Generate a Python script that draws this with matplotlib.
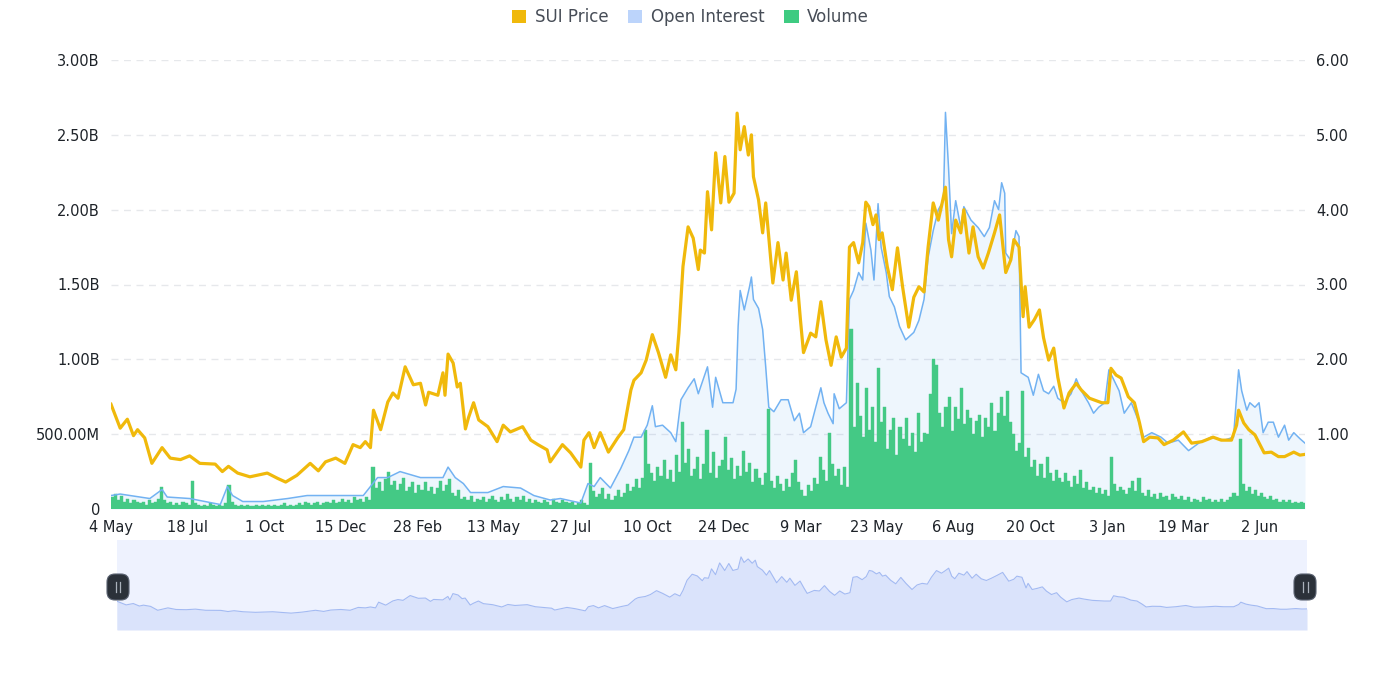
import numpy as np
import pandas as pd
import matplotlib.pyplot as plt
from matplotlib.patches import Patch, FancyBboxPatch
from matplotlib.lines import Line2D
from matplotlib.ticker import FuncFormatter

start = pd.Timestamp("2023-05-04")

# SUI price (right axis), days after start
price_day = [0, 9, 16, 22, 26, 33, 40, 50, 58, 68, 77, 87, 102, 109, 115, 124, 136, 153, 163, 171,
             182, 195, 203, 210, 220, 229, 237, 244, 249, 254, 257, 264, 271, 276, 281, 288, 296, 303, 308, 311,
             320, 325, 327, 330, 335, 339, 342, 347, 350, 355, 360, 369, 378, 384, 391, 403, 411, 418, 427, 430,
             442, 450, 460, 463, 468, 473, 479, 487, 496, 502, 509, 512, 519, 524, 530, 536, 543, 548, 553, 556,
             560, 565, 570, 575, 577, 581, 584, 588, 592, 597, 601, 605, 610, 613, 616, 620, 624, 627, 629, 634,
             638, 641, 648, 653, 658, 661, 666, 671, 675, 678, 685, 690, 695, 700, 705, 710, 715, 720, 723, 727,
             732, 736, 739, 742, 746, 749, 752, 755, 760, 765, 770, 775, 781, 786, 791, 796, 800, 805, 810, 813,
             817, 820, 823, 827, 832, 835, 840, 844, 849, 854, 859, 865, 870, 874, 876, 881, 884, 889, 893, 895,
             899, 904, 909, 913, 918, 923, 927, 933, 938, 945, 950, 958, 970, 976, 979, 984, 989, 996, 1002, 1007,
             1011, 1017, 1025, 1031, 1040, 1050, 1058, 1068, 1079, 1087, 1097, 1102, 1104, 1109, 1114, 1120, 1126, 1129, 1136, 1143,
             1149, 1158, 1164, 1169]
price = [1.40, 1.08, 1.20, 0.98, 1.06, 0.95, 0.61, 0.82, 0.68, 0.66, 0.71, 0.61, 0.60, 0.50, 0.57, 0.48, 0.43, 0.48, 0.41, 0.36,
         0.45, 0.61, 0.51, 0.63, 0.68, 0.61, 0.86, 0.82, 0.90, 0.82, 1.32, 1.06, 1.43, 1.55, 1.48, 1.90, 1.66, 1.68, 1.39, 1.56,
         1.52, 1.82, 1.52, 2.07, 1.95, 1.63, 1.68, 1.07, 1.22, 1.42, 1.19, 1.10, 0.90, 1.12, 1.03, 1.10, 0.92, 0.86, 0.79, 0.63,
         0.86, 0.75, 0.56, 0.92, 1.02, 0.82, 1.02, 0.76, 0.95, 1.06, 1.59, 1.72, 1.82, 1.99, 2.33, 2.09, 1.76, 2.06, 1.86, 2.35,
         3.24, 3.77, 3.62, 3.20, 3.46, 3.42, 4.24, 3.73, 4.76, 4.09, 4.71, 4.10, 4.22, 5.29, 4.80, 5.11, 4.73, 5.00, 4.44, 4.13,
         3.69, 4.09, 3.02, 3.56, 3.06, 3.42, 2.79, 3.17, 2.53, 2.09, 2.35, 2.30, 2.77, 2.26, 1.92, 2.30, 2.03, 2.15, 3.50, 3.56,
         3.29, 3.56, 4.10, 4.04, 3.80, 3.93, 3.60, 3.69, 3.24, 2.93, 3.49, 2.97, 2.43, 2.83, 2.97, 2.90, 3.50, 4.09, 3.86, 4.04,
         4.30, 3.60, 3.37, 3.86, 3.69, 4.00, 3.42, 3.77, 3.37, 3.22, 3.42, 3.69, 3.93, 3.42, 3.16, 3.33, 3.60, 3.50, 2.57, 2.97,
         2.43, 2.53, 2.66, 2.29, 1.99, 2.15, 1.76, 1.35, 1.55, 1.68, 1.59, 1.48, 1.42, 1.42, 1.88, 1.79, 1.75, 1.50, 1.42, 1.15,
         0.90, 0.96, 0.95, 0.86, 0.92, 1.03, 0.88, 0.90, 0.96, 0.92, 0.92, 1.12, 1.32, 1.15, 1.06, 0.99, 0.83, 0.75, 0.76, 0.70,
         0.70, 0.76, 0.72, 0.73]

# open interest in billions (left axis)
oi_day = [0, 9, 38, 50, 55, 77, 107, 114, 119, 129, 149, 173, 192, 218, 247, 254, 261, 271, 283, 303,
          316, 325, 330, 337, 345, 352, 369, 384, 401, 414, 430, 440, 460, 467, 473, 479, 489, 499, 507, 512,
          519, 525, 530, 533, 540, 548, 553, 558, 565, 571, 575, 584, 589, 592, 599, 609, 612, 614, 616, 620,
          625, 627, 629, 634, 638, 641, 644, 649, 656, 663, 669, 674, 678, 685, 695, 698, 702, 707, 708, 713,
          720, 723, 727, 732, 736, 739, 744, 747, 751, 754, 759, 762, 767, 772, 778, 786, 791, 796, 800, 805,
          810, 815, 817, 820, 823, 827, 832, 835, 842, 849, 855, 860, 865, 869, 872, 875, 876, 881, 886, 889,
          891, 898, 903, 908, 913, 918, 923, 927, 933, 940, 945, 950, 957, 962, 967, 973, 977, 982, 987, 992,
          999, 1006, 1011, 1019, 1028, 1035, 1045, 1055, 1065, 1077, 1090, 1099, 1104, 1107, 1112, 1115, 1120, 1124, 1128, 1133,
          1138, 1143, 1149, 1153, 1158, 1164, 1169]
oi = [0.09, 0.10, 0.07, 0.13, 0.08, 0.07, 0.03, 0.15, 0.09, 0.05, 0.05, 0.07, 0.09, 0.09, 0.09, 0.15, 0.21, 0.21, 0.25, 0.21,
      0.21, 0.21, 0.28, 0.21, 0.17, 0.11, 0.11, 0.15, 0.14, 0.09, 0.06, 0.07, 0.04, 0.17, 0.15, 0.21, 0.14, 0.27, 0.39, 0.48,
      0.48, 0.56, 0.69, 0.55, 0.56, 0.51, 0.45, 0.73, 0.81, 0.87, 0.77, 0.95, 0.68, 0.88, 0.71, 0.71, 0.80, 1.22, 1.46, 1.33,
      1.48, 1.55, 1.40, 1.34, 1.20, 0.95, 0.68, 0.65, 0.73, 0.73, 0.59, 0.64, 0.51, 0.55, 0.81, 0.71, 0.64, 0.57, 0.77, 0.67,
      0.71, 1.40, 1.46, 1.58, 1.53, 1.91, 1.73, 1.53, 2.04, 1.75, 1.58, 1.42, 1.35, 1.22, 1.13, 1.18, 1.26, 1.40, 1.68, 1.86,
      2.00, 2.06, 2.65, 2.28, 1.84, 2.06, 1.88, 2.02, 1.93, 1.88, 1.82, 1.88, 2.06, 2.00, 2.18, 2.11, 1.71, 1.66, 1.86, 1.82,
      0.91, 0.88, 0.76, 0.90, 0.79, 0.77, 0.82, 0.74, 0.71, 0.77, 0.87, 0.79, 0.71, 0.64, 0.68, 0.71, 0.93, 0.86, 0.79, 0.64,
      0.71, 0.59, 0.48, 0.51, 0.48, 0.44, 0.46, 0.39, 0.44, 0.48, 0.46, 0.48, 0.93, 0.79, 0.66, 0.71, 0.68, 0.71, 0.51, 0.58,
      0.58, 0.48, 0.56, 0.46, 0.51, 0.47, 0.44]

# volume in billions, one value per 3 days from start
vol_step = 3
volume = [0.08, 0.10, 0.06, 0.09, 0.05, 0.07, 0.04, 0.06, 0.05, 0.04,
          0.05, 0.03, 0.06, 0.04, 0.05, 0.07, 0.15, 0.06, 0.04, 0.05,
          0.03, 0.04, 0.03, 0.05, 0.04, 0.03, 0.19, 0.04, 0.03, 0.02,
          0.03, 0.02, 0.04, 0.03, 0.02, 0.03, 0.02, 0.04, 0.16, 0.05,
          0.03, 0.02, 0.03, 0.02, 0.03, 0.02, 0.02, 0.03, 0.02, 0.03,
          0.02, 0.03, 0.02, 0.03, 0.02, 0.03, 0.04, 0.02, 0.03, 0.02,
          0.03, 0.04, 0.03, 0.05, 0.04, 0.03, 0.04, 0.05, 0.03, 0.04,
          0.05, 0.04, 0.06, 0.04, 0.05, 0.07, 0.05, 0.06, 0.04, 0.08,
          0.06, 0.07, 0.05, 0.08, 0.06, 0.28, 0.14, 0.18, 0.12, 0.20,
          0.25, 0.16, 0.19, 0.13, 0.17, 0.21, 0.12, 0.15, 0.18, 0.11,
          0.16, 0.13, 0.18, 0.12, 0.15, 0.10, 0.14, 0.19, 0.12, 0.16,
          0.20, 0.11, 0.09, 0.13, 0.07, 0.08, 0.06, 0.09, 0.05, 0.07,
          0.06, 0.08, 0.05, 0.07, 0.09, 0.06, 0.05, 0.08, 0.06, 0.10,
          0.07, 0.05, 0.08, 0.06, 0.09, 0.05, 0.07, 0.04, 0.06, 0.05,
          0.04, 0.06, 0.05, 0.03, 0.07, 0.05, 0.04, 0.06, 0.05, 0.04,
          0.05, 0.03, 0.04, 0.06, 0.04, 0.03, 0.31, 0.12, 0.08, 0.10,
          0.14, 0.07, 0.10, 0.06, 0.09, 0.13, 0.08, 0.11, 0.17, 0.12,
          0.15, 0.20, 0.14, 0.21, 0.53, 0.30, 0.24, 0.19, 0.28, 0.22,
          0.33, 0.20, 0.26, 0.18, 0.36, 0.25, 0.58, 0.31, 0.40, 0.22,
          0.27, 0.35, 0.20, 0.30, 0.53, 0.24, 0.38, 0.21, 0.29, 0.33,
          0.48, 0.26, 0.34, 0.20, 0.29, 0.22, 0.39, 0.25, 0.31, 0.18,
          0.27, 0.21, 0.16, 0.24, 0.67, 0.19, 0.14, 0.22, 0.17, 0.12,
          0.20, 0.15, 0.24, 0.33, 0.18, 0.13, 0.09, 0.16, 0.12, 0.21,
          0.17, 0.35, 0.26, 0.19, 0.51, 0.30, 0.22, 0.27, 0.16, 0.28,
          0.15, 1.20, 0.55, 0.84, 0.62, 0.48, 0.81, 0.53, 0.68, 0.45,
          0.94, 0.58, 0.68, 0.40, 0.53, 0.61, 0.36, 0.55, 0.47, 0.61,
          0.42, 0.51, 0.38, 0.64, 0.45, 0.51, 0.50, 0.77, 1.00, 0.96,
          0.64, 0.55, 0.68, 0.75, 0.52, 0.68, 0.60, 0.81, 0.57, 0.66,
          0.61, 0.50, 0.59, 0.63, 0.48, 0.61, 0.55, 0.71, 0.52, 0.64,
          0.75, 0.62, 0.79, 0.58, 0.50, 0.39, 0.44, 0.79, 0.35, 0.41,
          0.28, 0.33, 0.22, 0.30, 0.21, 0.35, 0.24, 0.19, 0.26, 0.21,
          0.18, 0.24, 0.19, 0.15, 0.22, 0.17, 0.26, 0.14, 0.18, 0.13,
          0.15, 0.11, 0.14, 0.10, 0.13, 0.09, 0.35, 0.17, 0.12, 0.15,
          0.13, 0.10, 0.14, 0.19, 0.12, 0.21, 0.11, 0.09, 0.13, 0.08,
          0.10, 0.07, 0.11, 0.08, 0.09, 0.06, 0.10, 0.08, 0.07, 0.09,
          0.06, 0.08, 0.05, 0.07, 0.06, 0.05, 0.08, 0.06, 0.07, 0.05,
          0.06, 0.05, 0.07, 0.05, 0.06, 0.08, 0.11, 0.09, 0.47, 0.17,
          0.12, 0.15, 0.10, 0.13, 0.09, 0.11, 0.08, 0.07, 0.09, 0.06,
          0.07, 0.05, 0.06, 0.05, 0.06, 0.04, 0.05, 0.04, 0.05, 0.04]

last_day = 1169
tick_every = 75
n_ticks = 16

plt.rcParams["font.family"] = ["DejaVu Sans"]

W, H = 1381, 675
fig = plt.figure(figsize=(W / 100, H / 100), dpi=100)
ax = fig.add_axes([111 / W, 166 / H, 1194 / W, 449 / H])
ax2 = ax.twinx()

p_dates = start + pd.to_timedelta(price_day, unit="D")
oi_dates = start + pd.to_timedelta(oi_day, unit="D")
v_dates = start + pd.to_timedelta(np.arange(len(volume)) * vol_step, unit="D")

ax.fill_between(oi_dates, oi, 0, color="#2f8ef0", alpha=0.08, lw=0, zorder=1)
ax.bar(v_dates, volume, width=vol_step, align="edge", color="#44c985",
       edgecolor="#44c985", lw=0.3, zorder=2)
ax.plot(oi_dates, oi, color="#72b2f2", lw=1.1, zorder=3)
ax2.plot(p_dates, price, color="#f0b90b", lw=2.3, solid_joinstyle="round")

x0, x1 = start, start + pd.Timedelta(days=last_day)
ax.set_xlim(x0, x1)
ax.set_ylim(0, 3)
ax2.set_ylim(0, 6)

ax.set_yticks(np.arange(0, 3.01, 0.5))
ax.yaxis.set_major_formatter(FuncFormatter(
    lambda v, _: "0" if v == 0 else (f"{v * 1000:.2f}M" if v < 1 else f"{v:.2f}B")))
ax2.set_yticks(np.arange(1, 6.01, 1))
ax2.yaxis.set_major_formatter(FuncFormatter(lambda v, _: f"{v:.2f}"))

ticks = pd.date_range(start, periods=n_ticks, freq=f"{tick_every}D")
ax.set_xticks(ticks)
ax.set_xticklabels([f"{t.day} {t:%b}" for t in ticks])

ax.grid(axis="y", color="#e6e8eb", linestyle=(0, (5, 4)), lw=1)
ax.set_axisbelow(True)
for a in (ax, ax2):
    for s in a.spines.values():
        s.set_visible(False)
    a.tick_params(length=0, labelsize=10.5, colors="#1e2329", pad=8)
ax.tick_params(axis="x", pad=8)

fig.legend(handles=[Patch(facecolor="#f0b90b", label="SUI Price"),
                    Patch(facecolor="#bcd4fb", label="Open Interest"),
                    Patch(facecolor="#3ecb81", label="Volume")],
           loc="center", bbox_to_anchor=(0.5, 1 - 17 / H), ncol=3, frameon=False,
           fontsize=12, handlelength=0.85, handleheight=0.85, handletextpad=0.5,
           columnspacing=1.2, labelcolor="#474d57")

# data zoom slider
axs = fig.add_axes([117 / W, 45 / H, 1190 / W, 90 / H])
axs.set_facecolor("#eef2fe")
pr = max(price) - min(price)
lo, hi = min(price) - 0.3 * pr, max(price) + 0.3 * pr
axs.fill_between(p_dates, price, lo, color="#dae3fb", lw=0)
axs.plot(p_dates, price, color="#a3baf2", lw=0.8)
axs.set_xlim(x0, x1)
axs.set_ylim(lo, hi)
axs.set_xticks([])
axs.set_yticks([])
for s in axs.spines.values():
    s.set_visible(False)

for cx in (118, 1305):
    cxi, cyi = cx / 100, (H - 587) / 100
    fig.add_artist(FancyBboxPatch((cxi - 0.11, cyi - 0.13), 0.22, 0.26,
                                  boxstyle="round,pad=0,rounding_size=0.08",
                                  transform=fig.dpi_scale_trans,
                                  facecolor="#2b3139", edgecolor="#596170", lw=0.8))
    for dx in (-0.025, 0.025):
        fig.add_artist(Line2D([cxi + dx, cxi + dx], [cyi - 0.05, cyi + 0.05],
                              transform=fig.dpi_scale_trans, color="#aab1bb", lw=0.9))

fig.savefig("out.png", dpi=100)
